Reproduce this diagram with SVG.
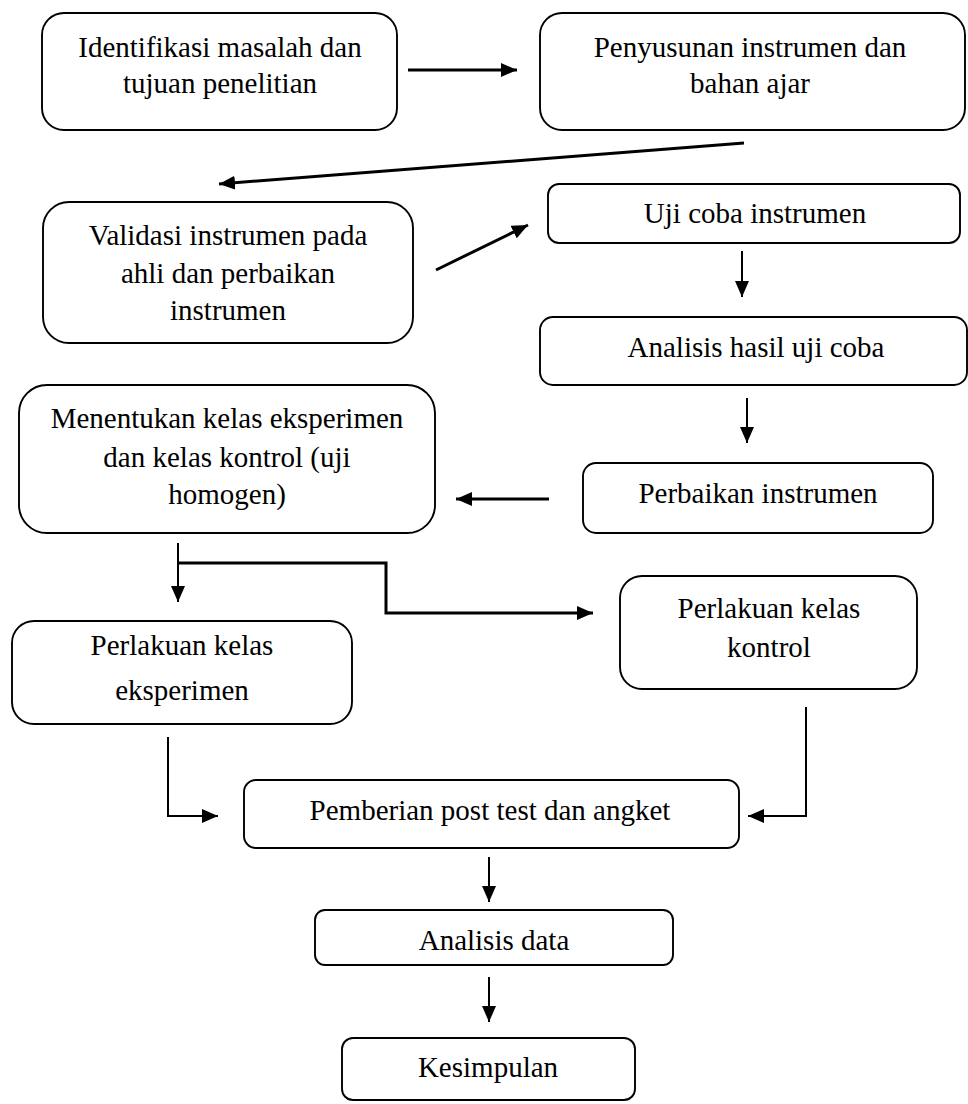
<svg xmlns="http://www.w3.org/2000/svg" width="968" height="1104" viewBox="0 0 968 1104">
<style>
.box{fill:#fff;stroke:#000;stroke-width:1.9}
.t{font-family:'Liberation Serif','Times New Roman','DejaVu Serif',serif;font-size:29px;fill:#000;text-anchor:middle}
.c{fill:none;stroke:#000;stroke-width:3}
.c2{fill:none;stroke:#000;stroke-width:2}
</style>
<defs>
<marker id="ah" markerUnits="userSpaceOnUse" markerWidth="16" markerHeight="14" refX="16" refY="7" orient="auto">
<path d="M0,0 L16,7 L0,14 z" fill="#000"/>
</marker>
</defs>
<rect width="968" height="1104" fill="#fff"/>
<g id="n1"><rect class="box" x="42" y="13" width="355" height="117" rx="22"/>
<text class="t" x="220" y="57">Identifikasi masalah dan</text><text class="t" x="220" y="93">tujuan penelitian</text></g>
<g id="n2"><rect class="box" x="540" y="13" width="425" height="117" rx="22"/>
<text class="t" x="750" y="57">Penyusunan instrumen dan</text><text class="t" x="750" y="93">bahan ajar</text></g>
<g id="n3"><rect class="box" x="43" y="202" width="370" height="141" rx="26"/>
<text class="t" x="228" y="245">Validasi instrumen pada</text><text class="t" x="228" y="283">ahli dan perbaikan</text><text class="t" x="228" y="320">instrumen</text></g>
<g id="n4"><rect class="box" x="548" y="184" width="412" height="59" rx="11"/>
<text class="t" x="755" y="223">Uji coba instrumen</text></g>
<g id="n5"><rect class="box" x="540" y="317" width="427" height="68" rx="13"/>
<text class="t" x="756" y="357">Analisis hasil uji coba</text></g>
<g id="n6"><rect class="box" x="19" y="385" width="416" height="148" rx="28"/>
<text class="t" x="227" y="428">Menentukan kelas eksperimen</text><text class="t" x="227" y="467">dan kelas kontrol (uji</text><text class="t" x="227" y="504">homogen)</text></g>
<g id="n7"><rect class="box" x="583" y="463" width="350" height="70" rx="13"/>
<text class="t" x="758" y="503">Perbaikan instrumen</text></g>
<g id="n8"><rect class="box" x="12" y="621" width="340" height="103" rx="22"/>
<text class="t" x="182" y="655">Perlakuan kelas</text><text class="t" x="182" y="700">eksperimen</text></g>
<g id="n9"><rect class="box" x="620" y="576" width="297" height="113" rx="22"/>
<text class="t" x="769" y="618">Perlakuan kelas</text><text class="t" x="769" y="657">kontrol</text></g>
<g id="n10"><rect class="box" x="244" y="780" width="495" height="68" rx="12"/>
<text class="t" x="490" y="820">Pemberian post test dan angket</text></g>
<g id="n11"><rect class="box" x="315" y="910" width="358" height="55" rx="10"/>
<text class="t" x="494" y="950">Analisis data</text></g>
<g id="n12"><rect class="box" x="342" y="1038" width="293" height="62" rx="11"/>
<text class="t" x="488" y="1077">Kesimpulan</text></g>
<g id="connectors">
<line class="c" x1="408" y1="70" x2="517" y2="70" marker-end="url(#ah)"/>
<line class="c" x1="744" y1="143" x2="219" y2="184" marker-end="url(#ah)"/>
<line class="c" x1="436" y1="270" x2="528" y2="225" marker-end="url(#ah)"/>
<line class="c2" x1="742" y1="251" x2="742" y2="297" marker-end="url(#ah)"/>
<line class="c2" x1="747" y1="398" x2="747" y2="443" marker-end="url(#ah)"/>
<line class="c" x1="549" y1="499" x2="456" y2="499" marker-end="url(#ah)"/>
<line class="c2" x1="178" y1="543" x2="178" y2="602" marker-end="url(#ah)"/>
<polyline class="c" points="178,563 386,563 386,613 593,613" marker-end="url(#ah)"/>
<polyline class="c2" points="168,737 168,816 218,816" marker-end="url(#ah)"/>
<polyline class="c2" points="806,707 806,816 748,816" marker-end="url(#ah)"/>
<line class="c2" x1="489" y1="857" x2="489" y2="902" marker-end="url(#ah)"/>
<line class="c2" x1="489" y1="977" x2="489" y2="1022" marker-end="url(#ah)"/>
</g>
</svg>
